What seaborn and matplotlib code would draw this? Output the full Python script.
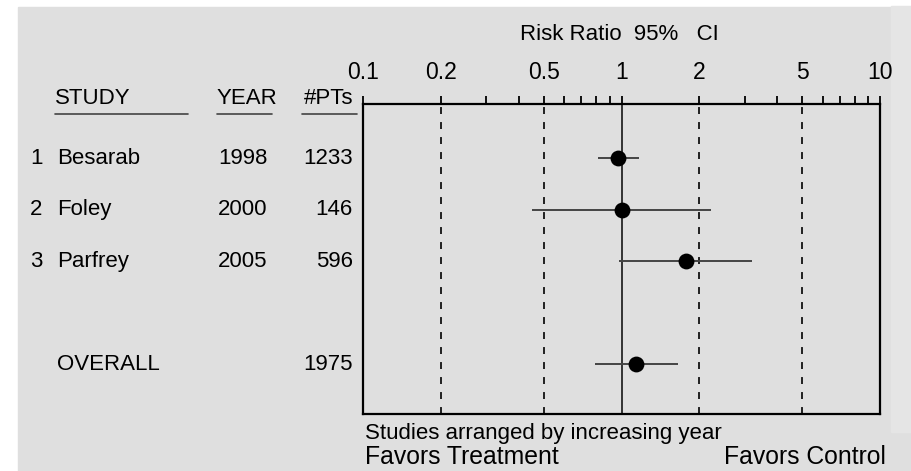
import matplotlib
matplotlib.use("Agg")
import matplotlib.pyplot as plt
import matplotlib.transforms as mtransforms
from matplotlib.patches import Rectangle
import seaborn as sns
import pandas as pd

# ---- data -------------------------------------------------------------
study_no = ["1", "2", "3", ""]
studies = ["Besarab", "Foley", "Parfrey", "OVERALL"]
years = ["1998", "2000", "2005", ""]
patients = [1233, 146, 596, 1975]
risk_ratio = [0.97, 1.00, 1.77, 1.14]
ci_low = [0.81, 0.45, 0.98, 0.79]
ci_high = [1.17, 2.22, 3.21, 1.66]
row_pos = [1, 2, 3, 5]

tick_values = [0.1, 0.2, 0.3, 0.4, 0.5, 0.6, 0.7, 0.8, 0.9, 1,
               2, 3, 4, 5, 6, 7, 8, 9, 10]
tick_labels = ["0.1", "0.2", "", "", "0.5", "", "", "", "", "1",
               "2", "", "", "5", "", "", "", "", "10"]
ref_lines = [0.2, 0.5, 2, 5]

df = pd.DataFrame({"no": study_no, "study": studies, "year": years,
                   "n": patients, "rr": risk_ratio, "lo": ci_low,
                   "hi": ci_high, "pos": row_pos})

# ---- style ------------------------------------------------------------
sns.set_theme(style="white")
plt.rcParams["font.family"] = ["Liberation Sans", "DejaVu Sans"]
plt.rcParams["lines.scale_dashes"] = False

W, H = 912, 471
BG = "#dfdfdf"
fig = plt.figure(figsize=(W / 100, H / 100), dpi=100, facecolor="white")


def fx(px):
    return px / W


def fy(py):
    return 1 - py / H


# panel background
fig.patches.append(Rectangle((fx(18), 0), fx(912) - fx(18), fy(7),
                             transform=fig.transFigure, color=BG, zorder=-10))
fig.patches.append(Rectangle((fx(891), fy(432)), fx(912) - fx(891),
                             fy(6) - fy(432), transform=fig.transFigure,
                             color="#e5e5e5", zorder=-9))

ax = fig.add_axes([fx(363), fy(414), fx(880) - fx(363), fy(104) - fy(414)])
ax.set_facecolor(BG)
ax.set_xscale("log")
ax.set_xlim(0.1, 10)
ax.set_ylim(5.97, -0.05)

# reference lines
for v in ref_lines:
    ax.axvline(v, color="#111111", lw=1.3, dashes=(5, 5.8), zorder=1)
ax.axvline(1, color="#333333", lw=1.4, zorder=1)

# confidence intervals and point estimates
ax.hlines(df["pos"], df["lo"], df["hi"], color="#444444", lw=1.4, zorder=2)
sns.scatterplot(data=df, x="rr", y="pos", ax=ax, color="black", s=130,
                edgecolor="black", linewidth=0, zorder=3, legend=False)

ax.set_xlabel("")
ax.set_ylabel("")
ax.set_yticks([])
ax.xaxis.tick_top()
ax.set_xticks(tick_values)
ax.set_xticklabels(tick_labels)
ax.xaxis.set_minor_locator(matplotlib.ticker.NullLocator())
ax.tick_params(axis="x", which="major", direction="out", length=5.5,
               width=1.3, color="black", pad=9, labelsize=16.5,
               labelcolor="black")
for sp in ax.spines.values():
    sp.set_visible(True)
    sp.set_color("black")
    sp.set_linewidth(1.6)

# ---- table text -------------------------------------------------------
txt = dict(fontsize=16, color="black", va="center")
row_tf = mtransforms.blended_transform_factory(fig.transFigure, ax.transData)
for _, r in df.iterrows():
    fig.text(fx(30), r["pos"], r["no"], transform=row_tf, ha="left", **txt)
    fig.text(fx(57), r["pos"], r["study"], transform=row_tf, ha="left", **txt)
    fig.text(fx(218), r["pos"], r["year"], transform=row_tf, ha="left", **txt)
    fig.text(fx(353), r["pos"], str(r["n"]), transform=row_tf, ha="right", **txt)

fig.text(fx(55), fy(99), "STUDY", ha="left", **txt)
fig.text(fx(217), fy(99), "YEAR", ha="left", **txt)
fig.text(fx(304), fy(99), "#PTs", ha="left", **txt)
for x0, x1 in [(55, 188), (217, 272), (302, 357)]:
    fig.add_artist(plt.Line2D([fx(x0), fx(x1)], [fy(114), fy(114)],
                              transform=fig.transFigure, color="#444444",
                              lw=1.2))

fig.text(fx(619), fy(35), "Risk Ratio  95%   CI", ha="center", **txt)
fig.text(fx(365), fy(433), "Studies arranged by increasing year",
         ha="left", fontsize=16, color="black", va="center")
fig.text(fx(365), fy(457), "Favors Treatment", ha="left", fontsize=17.8,
         color="black", va="center")
fig.text(fx(886), fy(457), "Favors Control", ha="right", fontsize=17.8,
         color="black", va="center")

fig.savefig("out.png", dpi=100, facecolor=fig.get_facecolor())
